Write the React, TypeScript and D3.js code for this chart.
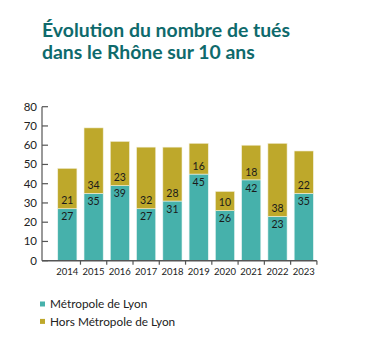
import React from "react";
import * as d3 from "d3";

const years = ["2014", "2015", "2016", "2017", "2018", "2019", "2020", "2021", "2022", "2023"];
const metropole = [27, 35, 39, 27, 31, 45, 26, 42, 23, 35];
const horsMetropole = [21, 34, 23, 32, 28, 16, 10, 18, 38, 22];
const yTicks = [0, 10, 20, 30, 40, 50, 60, 70, 80];
const seriesNames = ["Métropole de Lyon", "Hors Métropole de Lyon"];
const colors = ["#46B1AB", "#BEA82B"];

export default function App() {
  const W = 375, H = 347;
  const axisX = 42;
  const x = d3.scaleBand<string>().domain(years).range([54.2, 316.9]).paddingInner(0.27).paddingOuter(0.135);
  const y = d3.scaleLinear().domain([0, 80]).range([260.7, 106.7]);
  const font = "Lato, 'Open Sans', sans-serif";
  const rows = years.map((yr, i) => ({ yr, m: metropole[i], h: horsMetropole[i] }));
  const boundaries = years.map((yr) => (x(yr) as number) + x.bandwidth() / 2 + x.step() / 2);
  return (
    <svg width={W} height={H} style={{ position: "absolute", left: 0, top: 0 }}>
      <rect width={W} height={H} fill="#fff" />
      <text x={42} y={37} fill="#0E6A6C" fontFamily={font} fontWeight={700} fontSize={19.4}>Évolution du nombre de tués</text>
      <text x={42} y={58.5} fill="#0E6A6C" fontFamily={font} fontWeight={700} fontSize={19.4}>dans le Rhône sur 10 ans</text>
      {rows.map((r) => {
        const bx = x(r.yr) as number;
        const bw = x.bandwidth();
        const yb = y(r.m);
        const yt = y(r.m + r.h);
        return (
          <g key={r.yr}>
            <rect x={bx} y={yb} width={bw} height={y(0) - yb} fill={colors[0]} stroke="#E8F4F2" strokeWidth={0.6} />
            <rect x={bx} y={yt} width={bw} height={yb - yt} fill={colors[1]} stroke="#F4F0DC" strokeWidth={0.6} />
            <text x={bx + bw / 2} y={yb + 8} dy="0.35em" textAnchor="middle" fontFamily={font} fontSize={10.5} fill="#1a1a1a">{r.m}</text>
            <text x={bx + bw / 2} y={yb - 8} dy="0.35em" textAnchor="middle" fontFamily={font} fontSize={10.5} fill="#1a1a1a">{r.h}</text>
            <text x={bx + bw / 2} y={272} dy="0.35em" textAnchor="middle" fontFamily={font} fontSize={9.5} fill="#222">{r.yr}</text>
          </g>
        );
      })}
      <line x1={axisX} x2={axisX} y1={y(80)} y2={y(0)} stroke="#555" strokeWidth={1.2} />
      <line x1={axisX} x2={316.9} y1={y(0)} y2={y(0)} stroke="#555" strokeWidth={1.5} />
      {yTicks.map((t) => (
        <g key={t}>
          <line x1={axisX} x2={axisX + 6} y1={y(t)} y2={y(t)} stroke="#555" strokeWidth={1.2} />
          <text x={37} y={y(t)} dy="0.35em" textAnchor="end" fontFamily={font} fontSize={11.5} fill="#222">{t}</text>
        </g>
      ))}
      {boundaries.map((b, i) => (
        <line key={i} x1={b} x2={b} y1={y(0)} y2={y(0) + 4} stroke="#555" strokeWidth={1.2} />
      ))}
      {seriesNames.map((n, i) => (
        <g key={n}>
          <rect x={40} y={301.5 + i * 17.4} width={5} height={5} fill={colors[i]} />
          <text x={50} y={304.3 + i * 17.4} dy="0.35em" fontFamily={font} fontSize={11.8} fill="#222">{n}</text>
        </g>
      ))}
    </svg>
  );
}
